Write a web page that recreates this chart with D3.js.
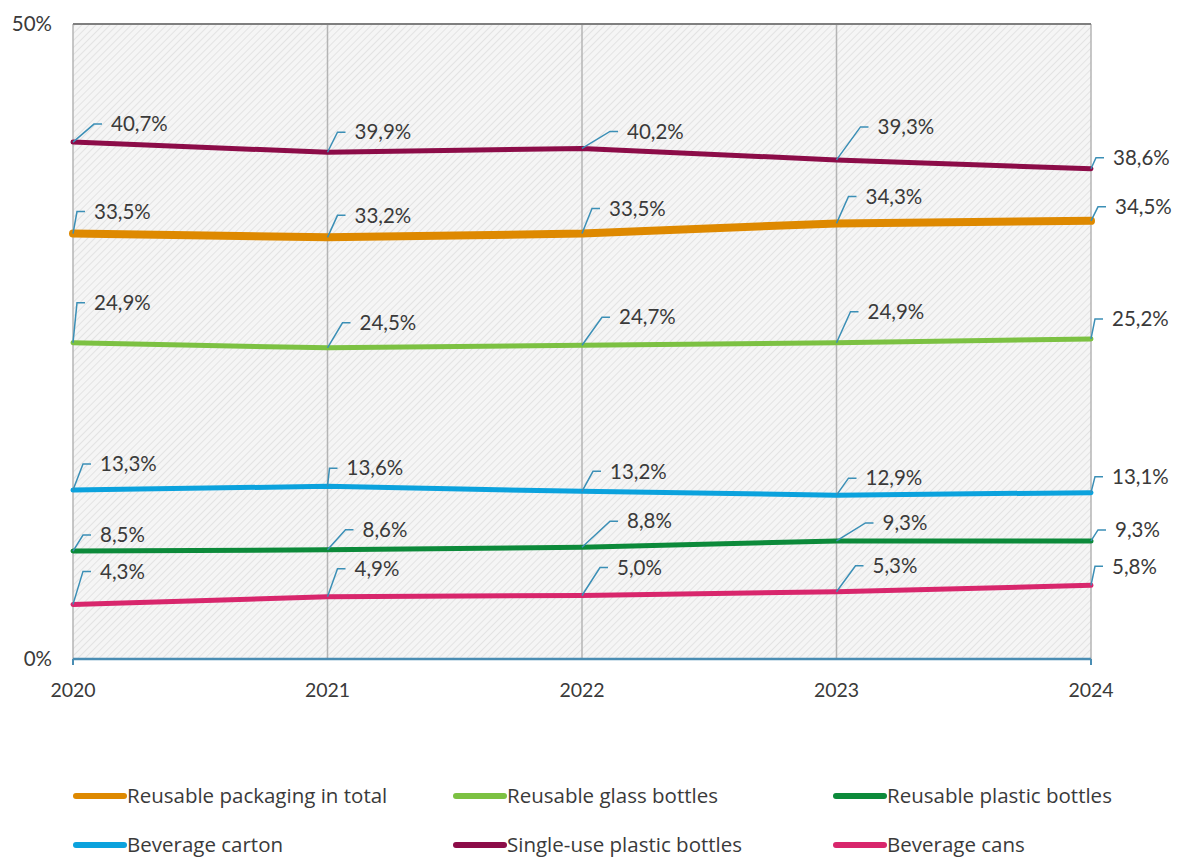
<!DOCTYPE html>
<html>
<head>
<meta charset="utf-8">
<script src="https://cdn.jsdelivr.net/npm/d3@7"></script>
<style>
    body { margin: 0; background: #fff; }
    svg text { font-family: Lato, "Open Sans", sans-serif; fill: #3a3a3a; }
    svg .legend text { font-family: "Open Sans", Lato, sans-serif; }
</style>
</head>
<body>
<div id="chart"></div>
<script>
(function() {
    // data
    const years = ['2020', '2021', '2022', '2023', '2024'];
    const seriesNames = [
        'Reusable packaging in total', 'Reusable glass bottles', 'Reusable plastic bottles',
        'Beverage carton', 'Single-use plastic bottles', 'Beverage cans'
    ];
    const reusableTotal = [33.5, 33.2, 33.5, 34.3, 34.5];
    const reusableGlass = [24.9, 24.5, 24.7, 24.9, 25.2];
    const reusablePlastic = [8.5, 8.6, 8.8, 9.3, 9.3];
    const beverageCarton = [13.3, 13.6, 13.2, 12.9, 13.1];
    const singleUsePlastic = [40.7, 39.9, 40.2, 39.3, 38.6];
    const beverageCans = [4.3, 4.9, 5.0, 5.3, 5.8];
    const yTicks = [0, 50];

    // styling per series
    const colors = ['#de8900', '#7cc142', '#0c8a3a', '#0ba2dd', '#8c0c48', '#d8266c'];
    const widths = [8, 5, 5, 5, 5, 5];
    // manual label placement (text offset from point: dx right, dy up), like the excel original
    const labelOffsets = [
        [[21, 22], [27, 22], [27, 25], [29, 27], [24, 14]],
        [[21, 40], [32, 25], [37, 28], [31, 31], [21, 20]],
        [[27, 16], [35, 20], [45, 26], [46, 18], [24, 11]],
        [[27, 26], [19, 18], [28, 20], [29, 17], [21, 16]],
        [[38, 18], [27, 20], [45, 17], [41, 33], [22, 11]],
        [[27, 33], [27, 28], [35, 28], [36, 26], [21, 19]]
    ];

    const values = [reusableTotal, reusableGlass, reusablePlastic, beverageCarton, singleUsePlastic, beverageCans];
    const series = seriesNames.map((name, i) => ({
        name: name,
        color: colors[i],
        width: widths[i],
        points: years.map((y, j) => ({ year: y, value: values[i][j], off: labelOffsets[i][j] }))
    }));

    const W = 1182, H = 859;
    const left = 73, right = 1091, top = 24, bottom = 659;

    const svg = d3.select('#chart')
        .append('svg')
        .attr('width', W)
        .attr('height', H);

    let defs = svg.append('defs');
    let pat = defs.append('pattern')
        .attr('id', 'hatch')
        .attr('patternUnits', 'userSpaceOnUse')
        .attr('width', 5)
        .attr('height', 5)
        .attr('patternTransform', 'rotate(45)');
    pat.append('rect').attr('width', 5).attr('height', 5).attr('fill', '#f5f5f5');
    pat.append('line')
        .attr('x1', 0).attr('y1', 0).attr('x2', 0).attr('y2', 5)
        .attr('stroke', '#dedede')
        .attr('stroke-width', 1.5);

    let x = d3.scalePoint()
        .domain(years)
        .range([left, right]);

    let y = d3.scaleLinear()
        .domain([0, 50])
        .range([bottom, top]);

    // plot background
    svg.append('rect')
        .attr('x', left)
        .attr('y', top)
        .attr('width', right - left)
        .attr('height', bottom - top)
        .attr('fill', 'url(#hatch)');

    // vertical gridlines at each year
    svg.selectAll('.vgrid')
        .data(years)
        .enter()
        .append('line')
        .attr('class', 'vgrid')
        .attr('x1', d => x(d))
        .attr('x2', d => x(d))
        .attr('y1', top)
        .attr('y2', bottom)
        .attr('stroke', '#b4b4b4')
        .attr('stroke-width', 1.5);

    // top border
    svg.append('line')
        .attr('x1', left).attr('x2', right)
        .attr('y1', y(50)).attr('y2', y(50))
        .attr('stroke', '#7f7f7f')
        .attr('stroke-width', 2);

    // bottom axis
    svg.append('line')
        .attr('x1', left).attr('x2', right)
        .attr('y1', y(0)).attr('y2', y(0))
        .attr('stroke', '#4a8db3')
        .attr('stroke-width', 2.5);
    svg.selectAll('.xtick')
        .data([years[0], years[years.length - 1]])
        .enter()
        .append('line')
        .attr('x1', d => x(d)).attr('x2', d => x(d))
        .attr('y1', y(0)).attr('y2', y(0) + 6)
        .attr('stroke', '#4a8db3')
        .attr('stroke-width', 2);

    // y labels
    svg.selectAll('.ylab')
        .data(yTicks)
        .enter()
        .append('text')
        .attr('x', left - 21)
        .attr('y', d => y(d))
        .attr('dy', '0.35em')
        .attr('text-anchor', 'end')
        .style('font-size', '20.5px')
        .text(d => d + '%');

    // x labels
    svg.selectAll('.xlab')
        .data(years)
        .enter()
        .append('text')
        .attr('x', d => x(d))
        .attr('y', 690)
        .attr('dy', '0.35em')
        .attr('text-anchor', 'middle')
        .style('font-size', '19.5px')
        .text(d => d);

    let line = d3.line()
        .x(d => x(d.year))
        .y(d => y(d.value));

    // draw thick total line last so it sits on top
    let drawOrder = [5, 2, 3, 1, 4, 0].map(i => series[i]);

    svg.selectAll('.series')
        .data(drawOrder)
        .enter()
        .append('path')
        .attr('class', 'series')
        .attr('d', d => line(d.points))
        .attr('fill', 'none')
        .attr('stroke', d => d.color)
        .attr('stroke-width', d => d.width)
        .attr('stroke-linecap', 'round')
        .attr('stroke-linejoin', 'round');

    // value labels with leader lines
    let labels = [];
    series.forEach(s => s.points.forEach(p => labels.push(p)));

    let lab = svg.selectAll('.lab')
        .data(labels)
        .enter()
        .append('g')
        .attr('class', 'lab');

    lab.append('polyline')
        .attr('points', d => {
            let px = x(d.year), py = y(d.value);
            let tx = px + d.off[0], ty = py - d.off[1];
            return [[px, py], [tx - 17, ty], [tx - 9, ty]].map(q => q.join(',')).join(' ');
        })
        .attr('fill', 'none')
        .attr('stroke', '#3b8fb6')
        .attr('stroke-width', 1.5);

    lab.append('text')
        .attr('x', d => x(d.year) + d.off[0])
        .attr('y', d => y(d.value) - d.off[1])
        .attr('dy', '0.35em')
        .style('font-size', '20.5px')
        .text(d => d.value.toFixed(1).replace('.', ',') + '%');

    // legend
    let legend = svg.selectAll('.legend')
        .data(series)
        .enter()
        .append('g')
        .attr('class', 'legend')
        .attr('transform', (d, i) => 'translate(' + (76 + (i % 3) * 380) + ',' + (796 + Math.floor(i / 3) * 49) + ')');

    legend.append('line')
        .attr('x1', 0).attr('x2', 48)
        .attr('y1', 0).attr('y2', 0)
        .attr('stroke', d => d.color)
        .attr('stroke-width', 6)
        .attr('stroke-linecap', 'round');

    legend.append('text')
        .attr('x', 51)
        .attr('y', 0)
        .attr('dy', '0.35em')
        .style('font-size', '20.5px')
        .text(d => d.name);
})();
</script>
</body>
</html>
